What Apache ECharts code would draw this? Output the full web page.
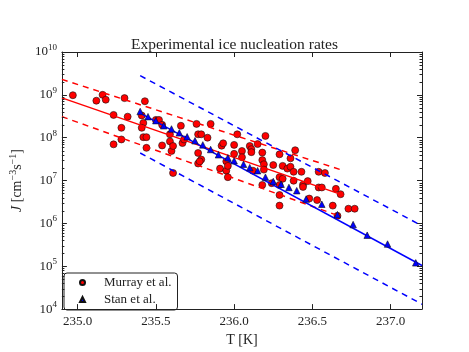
<!DOCTYPE html>
<html>
<head>
<meta charset="utf-8">
<script src="https://cdn.jsdelivr.net/npm/echarts@6/dist/echarts.min.js"></script>
<style>
html, body { margin: 0; padding: 0; background: #fff; }
#chart { width: 469px; height: 352px; }
</style>
</head>
<body>
<div id="chart"></div>
<script>
// Murray et al. measurements
var murrayT = [234.97, 235.12, 235.16, 235.18, 235.30, 235.23, 235.32, 235.28, 235.23, 235.28,
    235.43, 235.41, 235.42, 235.41, 235.42, 235.44, 235.44, 235.50, 235.52, 235.54,
    235.54, 235.59, 235.59, 235.60, 235.61, 235.61, 235.66, 235.67, 235.68, 235.76,
    235.77, 235.79, 235.77, 235.79, 235.77, 235.78, 235.83, 235.85, 235.91, 235.92,
    235.93, 235.95, 235.95, 235.96, 235.96, 236.00, 236.00, 236.02, 236.05, 236.05,
    236.10, 236.11, 236.11, 236.12, 236.15, 236.18, 236.18, 236.19, 236.20, 236.18,
    236.19, 236.25, 236.24, 236.29, 236.29, 236.29, 236.29, 236.29, 236.31, 236.31,
    236.34, 236.36, 236.36, 236.38, 236.39, 236.38, 236.43, 236.44, 236.44, 236.47,
    236.48, 236.53, 236.54, 236.54, 236.56, 236.58, 236.63, 236.65, 236.66, 236.68,
    236.73, 236.77]
var murrayJ = [9.8e8, 7.3e8, 1.0e9, 7.7e8, 8.4e8, 3.4e8, 3.1e8, 1.7e8, 7.0e7, 9.1e7,
    7.1e8, 3.3e8, 2.2e8, 1.7e8, 1.03e8, 1.03e8, 5.8e7, 2.6e8, 2.6e8, 2.0e8,
    6.6e7, 1.2e8, 8.2e7, 4.9e7, 6.4e7, 1.5e7, 1.9e8, 7.5e7, 9.1e7, 2.1e8,
    1.2e8, 1.2e8, 4.4e7, 3.1e7, 2.5e7, 2.8e7, 1.0e8, 2.1e8, 1.9e7, 6.5e7,
    7.4e7, 2.8e7, 1.7e7, 2.2e7, 1.2e7, 6.8e7, 4.2e7, 1.2e8, 4.9e7, 3.5e7,
    6.4e7, 5.4e7, 4.6e7, 1.7e7, 7.1e7, 4.5e7, 3.0e7, 2.4e7, 1.1e8, 7.9e6,
    1.8e7, 2.3e7, 8.7e6, 4.1e7, 1.2e7, 7.9e6, 4.6e6, 2.6e6, 2.2e7, 1.1e7,
    1.9e7, 3.3e7, 2.1e7, 1.6e7, 5.1e7, 9.9e6, 1.6e7, 8.0e6, 7.1e6, 9.7e6,
    3.8e6, 3.5e6, 1.6e7, 6.9e6, 6.9e6, 1.5e7, 2.6e6, 6.4e6, 1.5e6, 4.8e6,
    2.2e6, 2.2e6]

// Stan et al. measurements
var stanT = [235.40, 235.45, 235.50, 235.55, 235.60, 235.65, 235.70, 235.75, 235.80, 235.85,
    235.90, 235.96, 236.00, 236.06, 236.10, 236.15, 236.20, 236.25, 236.30, 236.35,
    236.40, 236.46, 236.56, 236.66, 236.76, 236.85, 236.98, 237.16]
var stanJ = [4.1e8, 3.1e8, 2.5e8, 1.9e8, 1.6e8, 1.3e8, 1.05e8, 8.5e7, 6.8e7, 5.3e7,
    4.0e7, 3.4e7, 2.9e7, 2.4e7, 2.0e7, 1.7e7, 1.2e7, 9.5e6, 8.2e6, 6.9e6,
    5.8e6, 3.7e6, 2.8e6, 1.6e6, 9.4e5, 5.3e5, 3.3e5, 1.2e5]

// fit lines (end points)
var redFitT = [234.9, 236.7]
var redFitJ = [8.5e8, 4.5e6]
var redUpperT = [234.9, 236.7]
var redUpperJ = [2.3e9, 1.7e7]
var redLowerT = [234.9, 236.68]
var redLowerJ = [3.1e8, 1.45e6]
var blueFitT = [235.4, 237.2]
var blueFitJ = [3.75e8, 1.04e5]
var blueUpperT = [235.4, 237.2]
var blueUpperJ = [2.8e9, 8.8e5]
var blueLowerT = [235.4, 237.2]
var blueLowerJ = [4.4e7, 1.3e4]

var xTicks = [235.0, 235.5, 236.0, 236.5, 237.0]
var yTicks = [1e4, 1e5, 1e6, 1e7, 1e8, 1e9, 1e10]
var xMin = 234.9, xMax = 237.2

var yMinor = []
for (var i = 0; i < yTicks.length - 1; i++) {
    for (var k = 2; k <= 9; k++) yMinor.push(k * yTicks[i])
}

function pairs(xs, ys) {
    return xs.map(function (x, i) { return [x, ys[i]] })
}

var serif = 'Liberation Serif'
var ink = '#222'

function fitLine(xs, ys, color, dashed) {
    return {
        type: 'line',
        data: pairs(xs, ys),
        showSymbol: false,
        silent: true,
        z: 4,
        lineStyle: { color: color, width: 1.5, type: dashed ? [6, 5] : 'solid' }
    }
}

var dom = document.getElementById('chart')
var chart = echarts.init(dom, null, { renderer: 'canvas' })
var option = {
    animation: false,
    backgroundColor: '#fff',
    title: {
        text: 'Experimental ice nucleation rates',
        left: 'center',
        top: 32,
        textStyle: { fontFamily: serif, fontSize: 15.5, fontWeight: 'normal', color: ink }
    },
    grid: { left: 58, right: 47, top: 52, bottom: 36 },
    legend: {
        orient: 'vertical',
        left: 64,
        top: 273,
        padding: [3, 6, 4, 15],
        itemGap: 4,
        itemWidth: 5,
        itemHeight: 5,
        borderColor: '#222',
        borderWidth: 1,
        borderRadius: 3,
        textStyle: { fontFamily: serif, fontSize: 13, color: ink, lineHeight: 13, padding: [0, 0, 0, 14] },
        data: [{ name: 'Murray et al.', icon: 'circle' }, { name: 'Stan et al.', icon: 'triangle' }]
    },
    xAxis: [{
        type: 'value',
        min: xMin,
        max: xMax,
        name: 'T [K]',
        nameLocation: 'middle',
        nameGap: 19,
        nameTextStyle: { fontFamily: serif, fontSize: 14, color: ink },
        axisLine: { lineStyle: { color: ink, width: 1 } },
        axisTick: { inside: true, length: 5, customValues: xTicks, lineStyle: { color: ink } },
        axisLabel: {
            customValues: xTicks,
            margin: 6,
            fontFamily: serif, fontSize: 13, color: ink,
            formatter: function (v) { return v.toFixed(1) }
        },
        splitLine: { show: false }
    }, {
        type: 'value',
        position: 'top',
        min: xMin,
        max: xMax,
        axisLine: { lineStyle: { color: ink, width: 1 } },
        axisTick: { inside: true, length: 5, customValues: xTicks, lineStyle: { color: ink } },
        axisLabel: { show: false },
        splitLine: { show: false }
    }],
    yAxis: [{
        type: 'log',
        logBase: 10,
        min: 1e4,
        max: 1e10,
        name: '{i|J} [cm{s|−3}s{s|−1}]',
        nameLocation: 'middle',
        nameRotate: 90,
        nameGap: 31,
        nameTextStyle: {
            fontFamily: serif, fontSize: 14, color: ink,
            rich: {
                i: { fontFamily: serif, fontSize: 14, fontStyle: 'italic', color: ink, lineHeight: 18 },
                s: { fontFamily: serif, fontSize: 10, color: ink, verticalAlign: 'top', lineHeight: 12 }
            }
        },
        axisLine: { lineStyle: { color: ink, width: 1 } },
        axisTick: { inside: true, length: 5, lineStyle: { color: ink } },
        axisLabel: {
            margin: 5,
            formatter: function (v) {
                return '{b|10}{e|' + Math.round(Math.log10(v)) + '}'
            },
            rich: {
                b: { fontFamily: serif, fontSize: 13, color: ink, lineHeight: 18 },
                e: { fontFamily: serif, fontSize: 9, color: ink, verticalAlign: 'top', lineHeight: 11 }
            }
        },
        splitLine: { show: false }
    }, {
        type: 'log',
        logBase: 10,
        position: 'right',
        min: 1e4,
        max: 1e10,
        axisLine: { lineStyle: { color: ink, width: 1 } },
        axisTick: { inside: true, length: 5, lineStyle: { color: ink } },
        axisLabel: { show: false },
        splitLine: { show: false }
    }],
    series: [{
        name: 'Murray et al.',
        type: 'scatter',
        data: pairs(murrayT, murrayJ),
        symbol: 'circle',
        symbolSize: 7,
        z: 3,
        itemStyle: { color: '#ff0000', borderColor: '#111', borderWidth: 0.6, opacity: 1 }
    }, {
        name: 'Stan et al.',
        type: 'scatter',
        data: pairs(stanT, stanJ),
        symbol: 'triangle',
        symbolSize: 6.5,
        z: 5,
        itemStyle: { color: '#0000ff', borderColor: '#111', borderWidth: 0.6, opacity: 1 }
    },
    fitLine(redFitT, redFitJ, '#ff0000', false),
    fitLine(redUpperT, redUpperJ, '#ff0000', true),
    fitLine(redLowerT, redLowerJ, '#ff0000', true),
    fitLine(blueFitT, blueFitJ, '#0000ff', false),
    fitLine(blueUpperT, blueUpperJ, '#0000ff', true),
    fitLine(blueLowerT, blueLowerJ, '#0000ff', true),
    {
        // minor log ticks on left and right frame
        type: 'custom',
        silent: true,
        z: 6,
        data: yMinor.map(function (v) { return [xMin, v] }),
        renderItem: function (params, api) {
            var p = api.coord([api.value(0), api.value(1)])
            var cs = params.coordSys
            var y = Math.round(p[1]) + 0.5
            return {
                type: 'group',
                children: [{
                    type: 'line',
                    shape: { x1: cs.x, y1: y, x2: cs.x + 2.5, y2: y },
                    style: { stroke: ink, lineWidth: 1 }
                }, {
                    type: 'line',
                    shape: { x1: cs.x + cs.width, y1: y, x2: cs.x + cs.width - 2.5, y2: y },
                    style: { stroke: ink, lineWidth: 1 }
                }]
            }
        }
    }]
}
chart.setOption(option)
</script>
</body>
</html>
